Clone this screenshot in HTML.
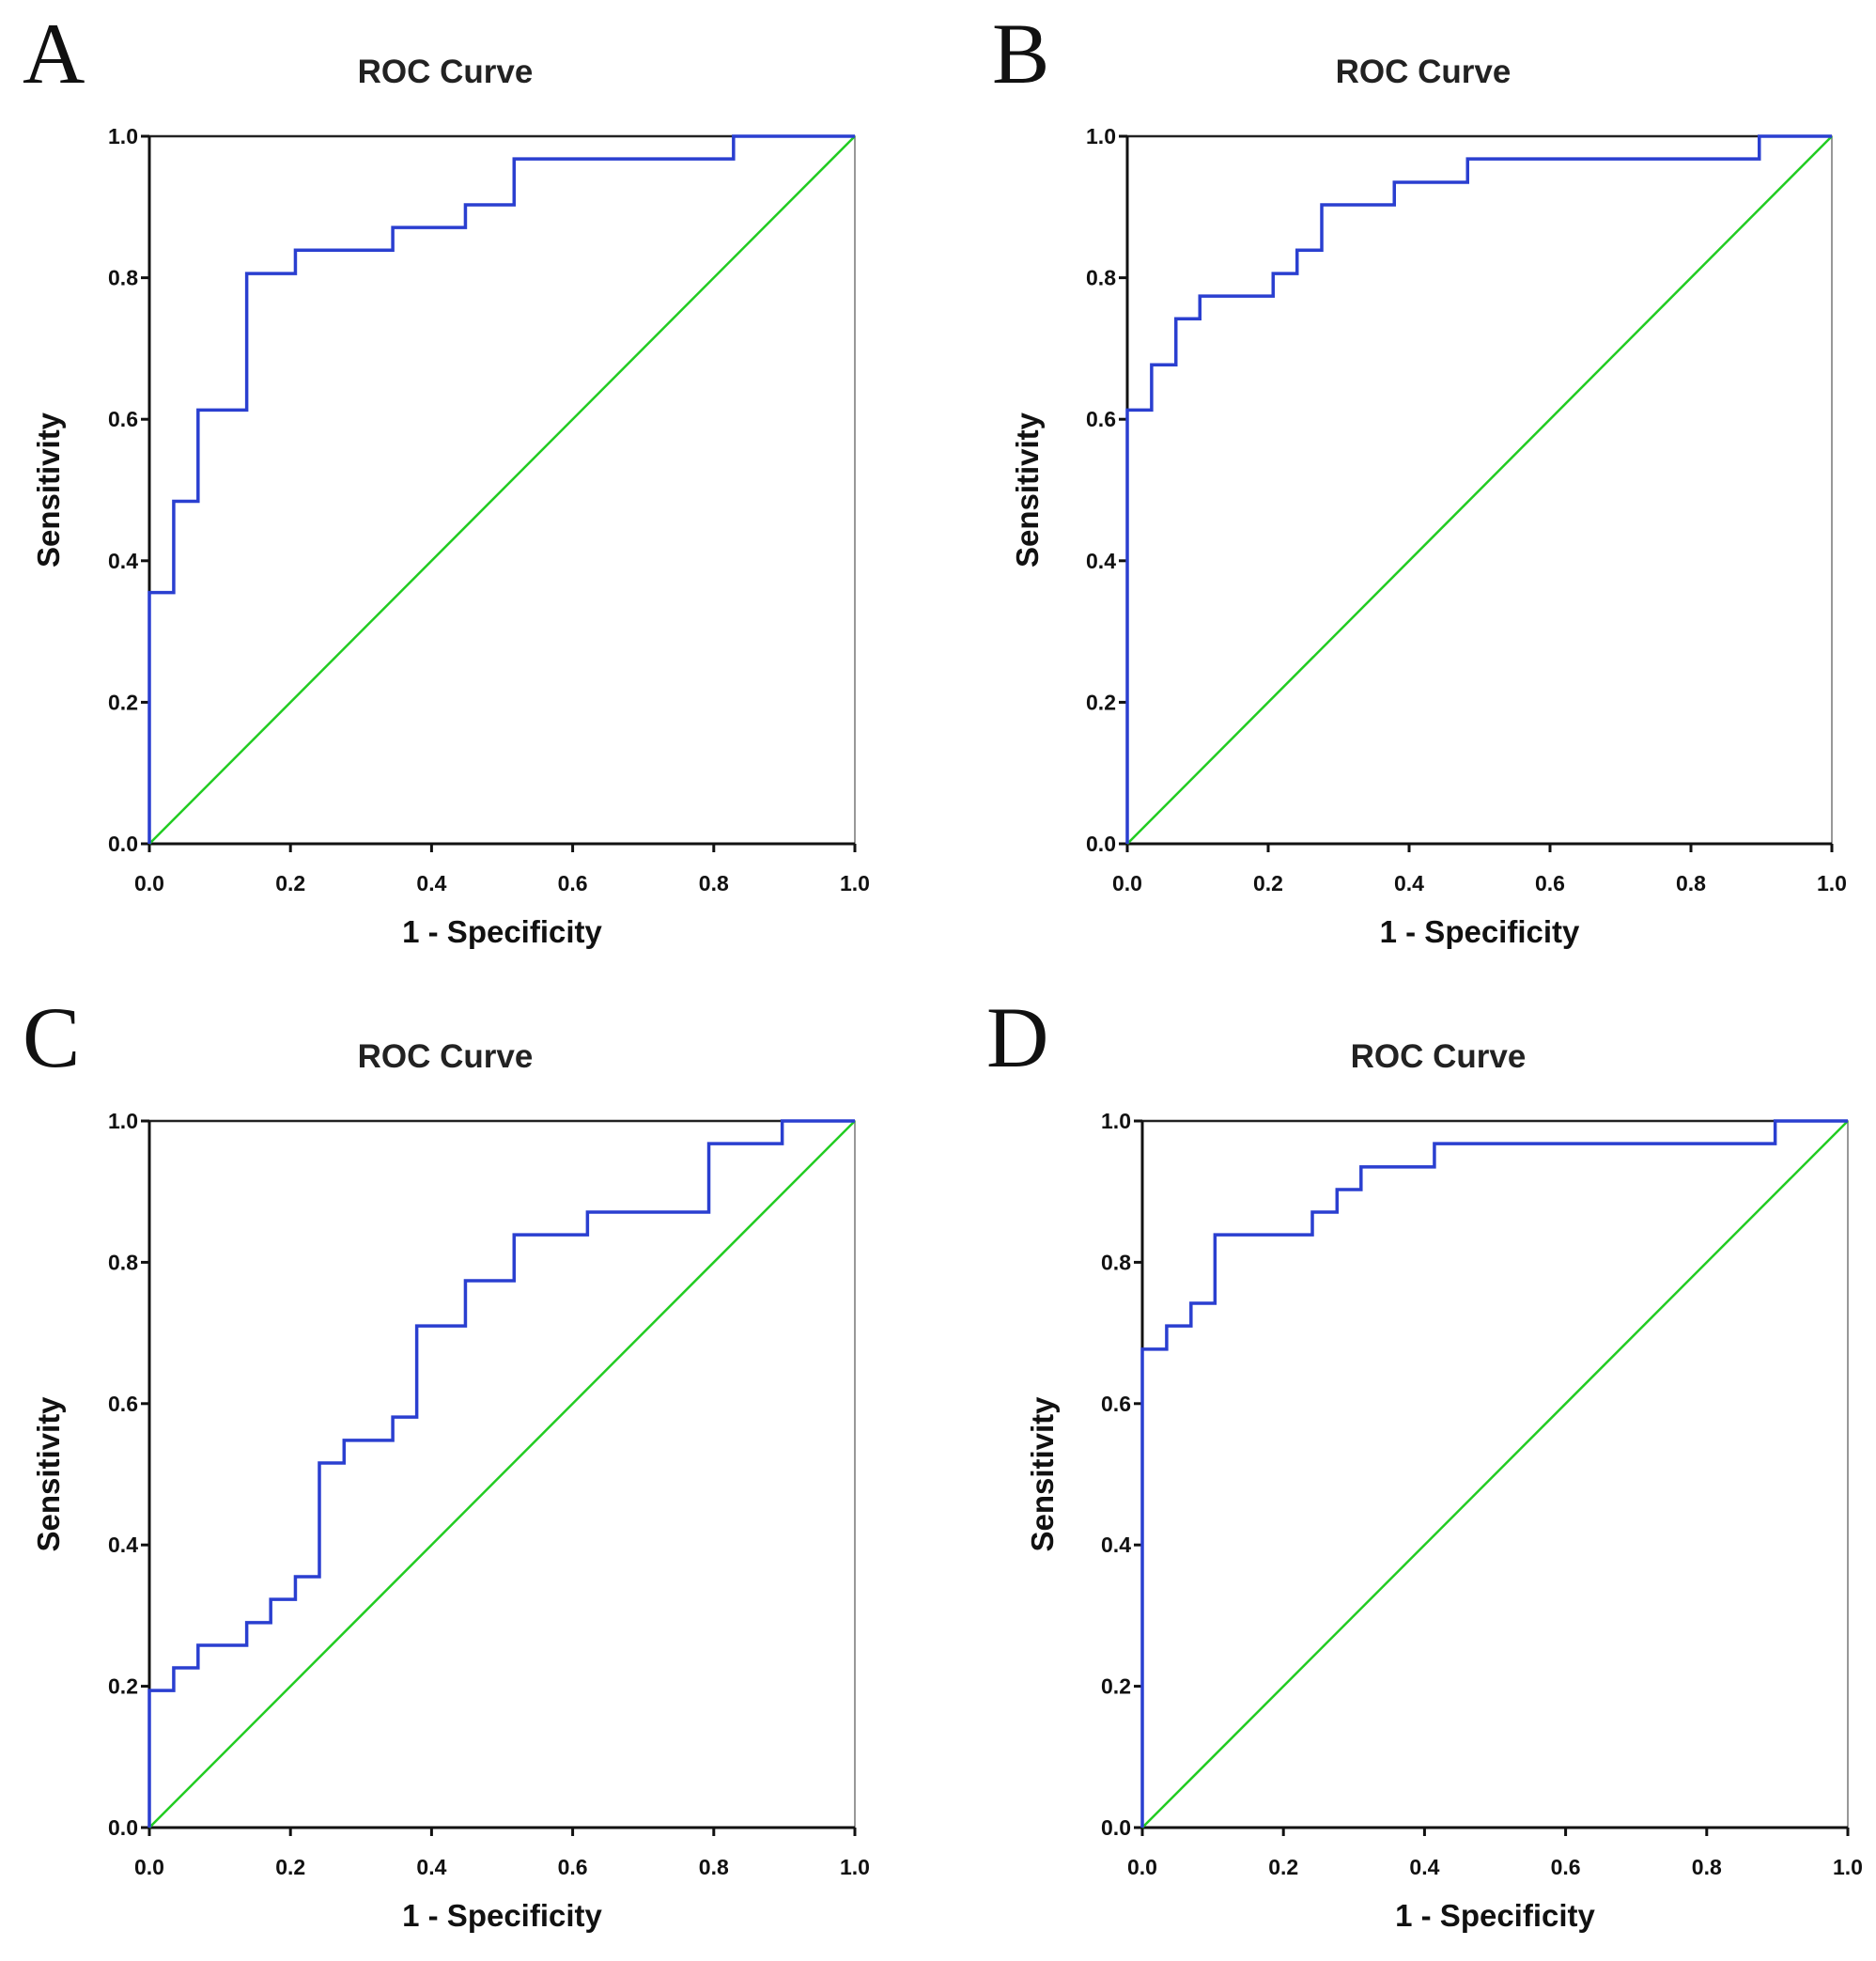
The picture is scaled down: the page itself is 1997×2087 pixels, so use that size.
<!DOCTYPE html>
<html><head><meta charset="utf-8"><style>
html,body{margin:0;padding:0;background:#fff;}
svg{display:block;}
text{font-family:"Liberation Sans",Arial,sans-serif;fill:#111;}
.tick{font-size:23px;font-weight:bold;}
.ttl{font-size:35px;font-weight:bold;fill:#222;}
.axl{font-size:33px;font-weight:bold;}
.let{font-family:"Liberation Serif","Times New Roman",serif;font-size:92px;}
</style></head><body>
<svg id="fig" width="1997" height="2087" viewBox="0 0 1997 2087" xmlns="http://www.w3.org/2000/svg"></svg>
<script>
const tickLabels = ["0.0","0.2","0.4","0.6","0.8","1.0"];
const tickValues = [0,0.2,0.4,0.6,0.8,1.0];
const aX = [0,0.0345,0.069,0.138,0.207,0.345,0.448,0.517,0.828];
const aY = [0.355,0.484,0.613,0.806,0.839,0.871,0.903,0.968,1.0];
const bX = [0,0.0345,0.069,0.103,0.207,0.241,0.276,0.379,0.483,0.897];
const bY = [0.613,0.677,0.742,0.774,0.806,0.839,0.903,0.935,0.968,1.0];
const cX = [0,0.0345,0.069,0.138,0.172,0.207,0.241,0.276,0.345,0.379,0.448,0.517,0.621,0.793,0.897];
const cY = [0.194,0.226,0.258,0.290,0.323,0.355,0.516,0.548,0.581,0.710,0.774,0.839,0.871,0.968,1.0];
const dX = [0,0.0345,0.069,0.103,0.241,0.276,0.310,0.414,0.897];
const dY = [0.677,0.710,0.742,0.839,0.871,0.903,0.935,0.968,1.0];

const NS="http://www.w3.org/2000/svg";
const svg=document.getElementById('fig');
function mk(tag,attrs,parent){const e=document.createElementNS(NS,tag);for(const k in attrs)e.setAttribute(k,attrs[k]);(parent||svg).appendChild(e);return e;}

const panels=[
 {id:'a',letter:'A',L:159,R:910,T:145,B:898,lx:24,ly:88,ylx:52,xs:aX,ys:aY},
 {id:'b',letter:'B',L:1200,R:1950,T:145,B:898,lx:1056,ly:88,ylx:1094,xs:bX,ys:bY},
 {id:'c',letter:'C',L:159,R:910,T:1193,B:1945,lx:24,ly:1135,ylx:52,xs:cX,ys:cY},
 {id:'d',letter:'D',L:1216,R:1967,T:1193,B:1945,lx:1050,ly:1135,ylx:1110,xs:dX,ys:dY}
];
panels.forEach(p=>{
  const g=mk('g',{});
  
  
  const sx=v=>p.L+v*(p.R-p.L), sy=v=>p.B-v*(p.B-p.T);
  const let_=mk('text',{x:p.lx,y:p.ly,class:'let'},g);let_.textContent=p.letter;
  
  
  const t=mk('text',{x:p.L+315,y:p.T-57,class:'ttl','text-anchor':'middle'},g);t.textContent='ROC Curve';
  
  
  const fr=mk('path',{d:`M${p.L},${p.T}H${p.R}V${p.B}`,fill:'none',stroke:'#777','stroke-width':1.5},g);
  
  
  mk('line',{x1:p.L,y1:p.T,x2:p.R,y2:p.T,stroke:'#222','stroke-width':2.5},g);
  const ya=mk('line',{x1:p.L,y1:p.T,x2:p.L,y2:p.B,stroke:'#111','stroke-width':3},g);
  
  
  const xa=mk('line',{x1:p.L,y1:p.B,x2:p.R,y2:p.B,stroke:'#111','stroke-width':3},g);
  
  
  tickValues.forEach((v,i)=>{
    mk('line',{x1:sx(v),y1:p.B,x2:sx(v),y2:p.B+9,stroke:'#111','stroke-width':3},g);
    mk('line',{x1:p.L-9,y1:sy(v),x2:p.L,y2:sy(v),stroke:'#111','stroke-width':3},g);
    const xt=mk('text',{x:sx(v),y:p.B+50,class:'tick','text-anchor':'middle'},g);xt.textContent=tickLabels[i];
    
    
    const yt=mk('text',{x:p.L-12,y:sy(v)+8,class:'tick','text-anchor':'end'},g);yt.textContent=tickLabels[i];
    
    
  });
  const xl=mk('text',{x:(p.L+p.R)/2,y:p.B+105,class:'axl','text-anchor':'middle'},g);xl.textContent='1 - Specificity';
  
  
  const yc=(p.T+p.B)/2;
  const yl=mk('text',{x:p.ylx+11,y:yc,class:'axl','text-anchor':'middle',transform:`rotate(-90 ${p.ylx+11} ${yc})`},g);yl.textContent='Sensitivity';
  
  
  const ref=mk('line',{x1:sx(0),y1:sy(0),x2:sx(1),y2:sy(1),stroke:'#22cc22','stroke-width':2.5},g);
  
  
  let d=`M${sx(0)},${sy(0)}`;let py=0;
  for(let i=0;i<p.xs.length;i++){d+=`L${sx(p.xs[i])},${sy(py)}L${sx(p.xs[i])},${sy(p.ys[i])}`;py=p.ys[i];}
  d+=`L${sx(1)},${sy(py)}`;
  const c=mk('path',{d:d,fill:'none',stroke:'#2a3fd0','stroke-width':3.5},g);
  
  
});
</script>
</body></html>
